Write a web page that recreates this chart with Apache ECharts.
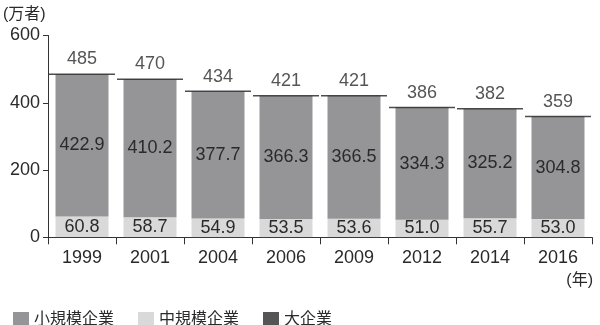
<!DOCTYPE html>
<html><head><meta charset="utf-8">
<script src="https://cdn.jsdelivr.net/npm/echarts@6/dist/echarts.min.js"></script>
<style>html,body{margin:0;padding:0;background:#fff}#c{width:600px;height:325px}</style>
</head><body><div id="c"></div>
<script>
const years = ['1999','2001','2004','2006','2009','2012','2014','2016'];
const small = [422.9,410.2,377.7,366.3,366.5,334.3,325.2,304.8];
const medium = [60.8,58.7,54.9,53.5,53.6,51.0,55.7,53.0];
const large = [1.2,1.2,1.2,1.2,1.2,1.1,1.1,1.1];
const totals = [485,470,434,421,421,386,382,359];
const yTicks = [0,200,400,600];

const FONT = '"Liberation Sans", "Noto Sans CJK JP", sans-serif';
const TXT = '#2a2a2a';
const chart = echarts.init(document.getElementById('c'));
chart.setOption({
  animation:false,
  textStyle:{fontFamily:FONT},
  grid:{left:48,right:8,top:35.5,bottom:87.7,containLabel:false},
  legend:{
    left:8, top:307, itemWidth:16, itemHeight:16, itemGap:24,
    icon:'rect',
    textStyle:{fontSize:16,color:TXT,fontFamily:FONT},
    data:['小規模企業','中規模企業','大企業']
  },
  xAxis:{
    type:'category', data:years,
    axisLine:{lineStyle:{color:'#333',width:1}},
    axisTick:{show:true,length:7,lineStyle:{color:'#333'}},
    axisLabel:{fontSize:18,color:TXT,margin:12,fontFamily:FONT}
  },
  yAxis:{
    type:'value', min:yTicks[0], max:yTicks[yTicks.length-1], interval:200,
    axisLine:{show:true,lineStyle:{color:'#333',width:1}},
    axisTick:{show:true,length:5,lineStyle:{color:'#333'}},
    splitLine:{show:false},
    axisLabel:{fontSize:18,color:TXT,margin:8,fontFamily:FONT}
  },
  graphic:[
    {type:'text',left:3,top:7,style:{text:'(万者)',font:'16px '+FONT,fill:TXT}},
    {type:'text',right:7,top:273,style:{text:'(年)',font:'16px '+FONT,fill:TXT}}
  ],
  series:[
    {name:'大企業',type:'bar',stack:'t',barWidth:53,data:large,itemStyle:{color:'#555555'}},
    {name:'中規模企業',type:'bar',stack:'t',data:medium,itemStyle:{color:'#d9d9d9'},
      label:{show:true,position:'inside',fontSize:18,color:TXT,fontFamily:FONT,formatter:p=>p.value.toFixed(1)}},
    {name:'小規模企業',type:'bar',stack:'t',data:small,itemStyle:{color:'#959597'},
      label:{show:true,position:'inside',fontSize:18,color:TXT,fontFamily:FONT,formatter:p=>p.value.toFixed(1)}},
    {name:'合計',type:'scatter',data:totals,symbol:'rect',symbolSize:[66,1.5],
      itemStyle:{color:'#222'},z:5,
      label:{show:true,position:'top',distance:5,fontSize:18,color:TXT,fontFamily:FONT}}
  ]
});
</script></body></html>
